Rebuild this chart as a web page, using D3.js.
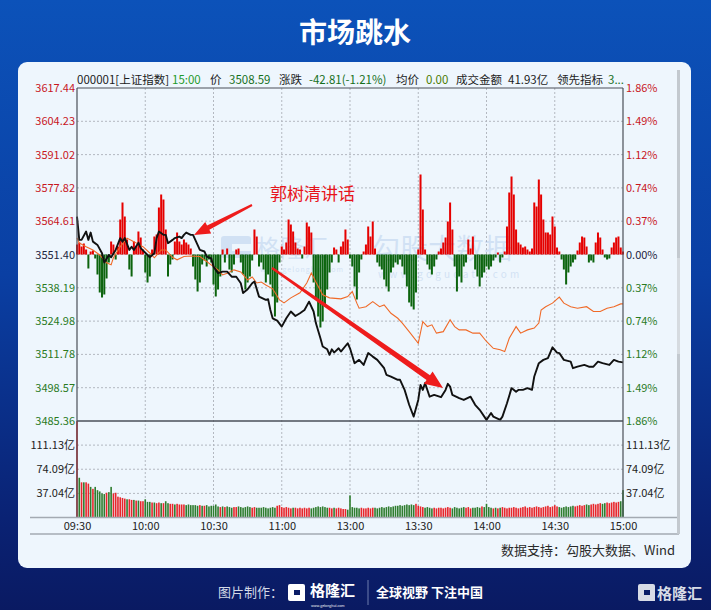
<!DOCTYPE html>
<html><head><meta charset="utf-8">
<script src="https://cdn.jsdelivr.net/npm/d3@7"></script>
<style>
body{margin:0;background:#0a2a80;}
svg{display:block;font-family:"Noto Sans CJK SC","Noto Sans",sans-serif;}
</style></head><body>
<svg id="chart" width="711" height="610"></svg>
<script>
// ---- data ----
var preClose = 3551.40;
var priceTicks = [3617.44, 3604.23, 3591.02, 3577.82, 3564.61, 3551.40, 3538.19, 3524.98, 3511.78, 3498.57, 3485.36];
var volTicks = [37.04, 74.09, 111.13];
var timeIdx = [0, 30, 60, 90, 120, 150, 180, 210, 240];
var timeLabels = ["09:30", "10:00", "10:30", "11:00", "13:00", "13:30", "14:00", "14:30", "15:00"];

// [minute index, index level]
var pricePts = [[0,3566.4],[1,3557.2],[2,3557.2],[4,3560.5],[5,3557.2],[6,3560.1],[7,3556.5],[9,3555.2],[11,3551.9],[12,3548.2],[14,3551.2],[15,3550.3],[17,3553.2],[19,3557.9],[20,3556.5],[21,3557.9],[23,3553.2],[24,3554.5],[25,3553.2],[27,3556.1],[28,3553.9],[31,3551.2],[32,3550.3],[34,3551.9],[35,3557.9],[36,3560.5],[38,3559.2],[39,3559.2],[40,3555.9],[42,3557.2],[43,3557.9],[45,3558.5],[46,3557.9],[47,3559.2],[48,3560.1],[50,3559.2],[51,3559.2],[53,3555.2],[54,3553.2],[56,3552.6],[57,3550.6],[59,3549.9],[60,3546.6],[62,3544.0],[64,3544.6],[66,3544.6],[68,3542.6],[70,3542.6],[72,3540.0],[73,3536.1],[75,3537.6],[77,3540.0],[78,3540.7],[80,3534.7],[83,3533.4],[84,3533.7],[85,3529.4],[86,3526.1],[88,3525.2],[90,3522.8],[92,3526.1],[94,3528.8],[96,3527.0],[98,3528.1],[100,3529.4],[102,3532.7],[104,3528.8],[105,3524.2],[107,3518.2],[108,3514.9],[110,3513.8],[111,3511.6],[112,3513.8],[113,3512.5],[115,3514.2],[116,3512.9],[119,3516.2],[120,3514.2],[122,3508.3],[124,3509.6],[126,3507.6],[128,3512.3],[130,3510.9],[132,3509.6],[135,3506.3],[136,3503.7],[138,3503.0],[141,3501.7],[142,3501.7],[144,3497.7],[146,3491.8],[148,3487.1],[150,3493.7],[151,3499.7],[152,3497.7],[153,3500.4],[155,3495.0],[157,3495.7],[160,3494.8],[162,3497.7],[163,3500.1],[164,3499.0],[165,3495.7],[168,3494.4],[170,3493.7],[173,3495.0],[175,3491.8],[177,3489.8],[180,3485.8],[182,3488.5],[183,3487.1],[186,3485.8],[187,3487.1],[189,3492.4],[191,3498.4],[193,3497.0],[194,3497.7],[196,3497.7],[198,3498.4],[200,3497.7],[201,3503.0],[203,3508.3],[205,3509.6],[207,3510.3],[209,3514.6],[211,3512.5],[212,3512.3],[214,3509.6],[217,3508.9],[218,3506.3],[220,3506.9],[223,3507.6],[225,3506.9],[227,3506.9],[229,3508.9],[231,3508.3],[234,3507.6],[236,3509.6],[238,3508.9],[240,3508.59]];

// orange line (leading indicator), same units
var leadPts = [[0,3558.0],[1,3556.0],[4,3554.5],[7,3553.2],[10,3551.2],[13,3548.1],[15,3547.3],[16,3550.1],[19,3554.5],[22,3557.9],[25,3556.5],[29,3554.5],[32,3552.0],[34,3550.1],[37,3553.2],[39,3553.2],[42,3550.3],[44,3549.3],[47,3550.6],[50,3550.8],[54,3550.6],[57,3548.6],[60,3546.6],[62,3545.3],[64,3543.3],[66,3544.0],[69,3545.3],[72,3544.5],[75,3541.3],[77,3542.5],[79,3540.1],[81,3540.5],[83,3539.3],[86,3537.8],[89,3533.4],[91,3532.2],[94,3534.2],[98,3536.2],[101,3540.1],[103,3544.1],[105,3540.5],[108,3535.4],[111,3534.2],[116,3533.8],[119,3534.7],[121,3536.7],[123,3532.1],[124,3530.1],[127,3530.7],[130,3532.7],[133,3530.7],[135,3531.4],[138,3528.1],[141,3526.1],[143,3524.2],[146,3520.8],[150,3516.2],[152,3524.8],[154,3522.8],[156,3523.5],[158,3520.2],[161,3520.8],[164,3525.5],[166,3522.8],[168,3521.5],[171,3521.5],[174,3520.2],[177,3520.2],[180,3516.9],[183,3514.2],[186,3513.6],[188,3512.9],[190,3518.2],[193,3522.8],[195,3520.2],[198,3521.5],[201,3522.2],[203,3524.2],[204,3529.4],[206,3530.7],[209,3532.1],[212,3534.5],[214,3532.1],[217,3530.7],[220,3530.1],[224,3530.7],[227,3528.8],[230,3528.8],[233,3530.1],[236,3530.7],[239,3531.8],[240,3531.8]];

// red/green strength bars, one per minute
var force = [
 10, 12, 8, 11, 5, -14, 3, 4, -4, -20,
 -38, -43, -40, -24, -8, 13, 10, -5, 8, 35,
 52, 38, 15, -15, -22, 13, 8, 23, 17, 5,
 -18, -28, -22, 5, 18, 20, 47, 60, 55, 25,
 -22, -10, -5, 13, 22, 13, 10, 15, 12, 10,
 6, -12, -25, -37, -28, -10, -6, -12, -5, -8,
 -30, -42, -35, -22, 5, -8, 6, -15, -18, -10,
 5, 6, -8, -20, -35, -28, -22, -6, 25, 18,
 -12, -8, -15, -28, -20, -30, -42, -62, -48, -8,
 8, 5, 12, 35, 30, 23, 12, 6, 5, -4,
 8, 32, 28, 22, -28, -45, -62, -73, -67, -52,
 -35, -18, -8, 7, 5, -8, 8, 13, 25, 15,
 -4, -12, -32, -45, -18, -5, 3, 10, 28, 18,
 33, 6, -8, -12, -15, -25, -32, -37, -18, -13,
 -8, -10, -5, -12, -20, -32, -48, -52, -55, -38,
 5, 80, 45, 5, -10, -15, -20, -12, -5, 3,
 6, 12, 17, 33, 52, 25, -12, -37, -22, -28,
 -12, -8, 15, 6, 18, -15, -22, -32, -23, -18,
 -12, -15, -12, -6, -3, 2, -8, -3, 3, 28,
 62, 78, 60, 25, 12, 10, 7, 8, 5, 3,
 6, 52, 48, 75, 60, 35, 22, 22, 20, 38,
 28, 7, 3, -5, -15, -30, -18, -12, -8, -5,
 4, 12, 18, 17, 8, -8, -6, -8, 12, 22,
 17, 5, -3, -5, -4, 7, 12, 17, 18, 7,
 3];

// turnover per minute, 亿
var volume = [
 148, 61, 54, 54, 54, 52, 47, 44, 47, 42,
 40, 37, 36, 38, 39, 47, 37, 38, 32, 31,
 30, 29, 28, 28, 27, 27, 26, 26, 25, 25,
 28, 24, 24, 23, 23, 22, 23, 22, 22, 25,
 22, 21, 21, 20, 21, 20, 20, 20, 19, 20,
 19, 19, 19, 18, 19, 18, 18, 19, 17, 18,
 18, 20, 17, 16, 17, 16, 17, 16, 15, 16,
 16, 17, 16, 15, 16, 17, 16, 15, 16, 15,
 15, 15, 16, 15, 14, 15, 16, 15, 18, 19,
 16, 15, 16, 15, 14, 15, 15, 14, 15, 14,
 15, 14, 15, 14, 15, 16, 17, 16, 17, 16,
 15, 15, 14, 15, 14, 15, 14, 13, 13, 12,
 34, 16, 15, 15, 14, 15, 14, 14, 15, 14,
 15, 15, 14, 15, 16, 15, 16, 17, 16, 17,
 18, 18, 19, 18, 19, 20, 19, 20, 19, 21,
 18, 17, 16, 15, 16, 15, 14, 15, 14, 15,
 15, 14, 15, 16, 15, 14, 16, 15, 14, 15,
 16, 15, 16, 14, 15, 15, 16, 15, 17, 16,
 21, 16, 15, 14, 15, 14, 15, 16, 15, 14,
 15, 15, 16, 15, 14, 15, 16, 17, 15, 16,
 15, 16, 17, 16, 15, 16, 17, 18, 16, 17,
 19, 17, 16, 15, 16, 17, 16, 17, 18, 17,
 18, 19, 18, 19, 20, 19, 20, 21, 20, 21,
 22, 21, 22, 23, 22, 23, 24, 23, 24, 25,
 42];
var volDir =
 "rgrgrrgrgggggrggrrrr" + "rrgrrgrgrrgggrgrrgrg" + "grrgrrrrggggggrgrggg" +
 "gggrgrgggrrggggggrrg" + "ggggggggrrrrrrrgrrrr" + "rrrggggggggrrgrrrrrg" +
 "gggggrrrrrrggggggggg" + "gggggggggrrrrggggrrr" + "rrrrrggggggrrrggggrg" +
 "gggrgrgrrrrrrrrrrrrr" + "rrrrrrrrrrrrgggggggr" + "rrrrggrrrrrggrrrrrrg" + "g";

var header = [
  ["000001[上证指数]", "#1c1c1c", 77],
  ["15:00", "#1f9a2a", 172],
  ["价", "#1c1c1c", 210],
  ["3508.59", "#16701c", 229],
  ["涨跌", "#1c1c1c", 279],
  ["-42.81(-1.21%)", "#16701c", 309],
  ["均价", "#1c1c1c", 396],
  ["0.00", "#4a7a00", 426],
  ["成交金额", "#1c1c1c", 456],
  ["41.93亿", "#1c1c1c", 508],
  ["领先指标", "#1c1c1c", 557],
  ["3...", "#16701c", 608]
];

// ---- layout ----
var svg = d3.select("#chart");
var L = 77, R = 623, T = 88, MID = 421, B = 517.5;
var RED = "#c8161d", GREEN = "#2a7a1e";

var defs = svg.append("defs");
var bg = defs.append("linearGradient").attr("id", "bg").attr("x1", 0).attr("y1", 0).attr("x2", 0).attr("y2", 1);
bg.append("stop").attr("offset", "0%").attr("stop-color", "#0c52b9");
bg.append("stop").attr("offset", "45%").attr("stop-color", "#0a3fa3");
bg.append("stop").attr("offset", "85%").attr("stop-color", "#0a2274");
bg.append("stop").attr("offset", "100%").attr("stop-color", "#0a1a62");
svg.append("rect").attr("width", 711).attr("height", 610).attr("fill", "url(#bg)");

svg.append("text").attr("x", 355).attr("y", 43).attr("text-anchor", "middle")
	.attr("fill", "#fff").attr("font-size", 28).attr("font-weight", 700).text("市场跳水");

svg.append("rect").attr("x", 18).attr("y", 62).attr("width", 673).attr("height", 506)
	.attr("rx", 9).attr("fill", "#eef6fd");

// scales
var x = d3.scaleLinear().domain([0, 240]).range([L, R]);
var y = d3.scaleLinear().domain([priceTicks[10], priceTicks[0]]).range([MID, T]);
var yVol = d3.scaleLinear().domain([0, volTicks[0] * 4]).range([B, MID]);
var y0 = y(preClose);
var yForce = d3.scaleLinear().domain([-80, 80]).range([y0 + 80, y0 - 80]);

// grid
var grid = svg.append("g").attr("stroke", "#b3b8c0").attr("stroke-dasharray", "2,2").attr("stroke-width", 1);
priceTicks.slice(1, 10).forEach(function(v) {
	grid.append("line").attr("x1", L).attr("x2", R).attr("y1", y(v)).attr("y2", y(v));
});
volTicks.forEach(function(v) {
	grid.append("line").attr("x1", L).attr("x2", R).attr("y1", yVol(v)).attr("y2", yVol(v));
});
timeIdx.slice(1, 8).forEach(function(i) {
	grid.append("line").attr("x1", x(i)).attr("x2", x(i)).attr("y1", T).attr("y2", B);
});

// watermarks
var wm = svg.append("g").attr("fill", "#7aa3d8").attr("opacity", 0.24);
wm.append("rect").attr("x", 221).attr("y", 236).attr("width", 30).attr("height", 22).attr("rx", 3);
wm.append("rect").attr("x", 232).attr("y", 244).attr("width", 19).attr("height", 7).attr("fill", "#eef6fd");
wm.append("text").attr("x", 256).attr("y", 257).attr("font-size", 24).text("格隆汇");
wm.append("text").attr("x", 260).attr("y", 272).attr("font-size", 7).attr("letter-spacing", 1).text("www.gelonghui.com");
wm.append("text").attr("x", 372).attr("y", 259).attr("font-size", 28).text("勾股大数据");
wm.append("text").attr("x", 378).attr("y", 278).attr("font-size", 10).attr("letter-spacing", 3.2).text("www.gogudata.com");

// strength bars
svg.append("g").selectAll("rect").data(force).join("rect")
	.attr("x", function(d, i) { return x(i) - 1; })
	.attr("width", 2)
	.attr("y", function(d) { return Math.min(yForce(d), y0); })
	.attr("height", function(d) { return Math.abs(yForce(d) - y0); })
	.attr("fill", function(d) { return d >= 0 ? "#e50000" : "#0c640e"; });

// volume bars
svg.append("g").selectAll("rect").data(volume).join("rect")
	.attr("x", function(d, i) { return x(i) - 0.8; })
	.attr("width", 1.6)
	.attr("y", function(d) { return yVol(d); })
	.attr("height", function(d) { return B - yVol(d); })
	.attr("fill", function(d, i) { return volDir[i] === "r" ? "#e8262b" : "#2f7d2f"; });

// lines
var line = d3.line().x(function(d) { return x(d[0]); }).y(function(d) { return y(d[1]); });
svg.append("path").attr("d", line(leadPts)).attr("fill", "none")
	.attr("stroke", "#f06a28").attr("stroke-width", 1.1);
svg.append("path").attr("d", line(pricePts)).attr("fill", "none")
	.attr("stroke", "#111").attr("stroke-width", 1.9).attr("stroke-linejoin", "round");

// frame
var fr = svg.append("g").attr("stroke", "#4a4f58").attr("stroke-width", 1.2);
fr.append("line").attr("x1", L).attr("x2", R).attr("y1", T).attr("y2", T);
fr.append("line").attr("x1", L).attr("x2", R).attr("y1", MID).attr("y2", MID).attr("stroke-width", 1.6);
fr.append("line").attr("x1", L).attr("x2", L).attr("y1", T).attr("y2", B);
fr.append("line").attr("x1", R).attr("x2", R).attr("y1", T).attr("y2", B);
svg.append("line").attr("x1", 30).attr("x2", 679).attr("y1", B).attr("y2", B)
	.attr("stroke", "#a3aab2").attr("stroke-width", 1.5);
svg.append("line").attr("x1", 30).attr("x2", 679).attr("y1", 534).attr("y2", 534)
	.attr("stroke", "#a3aab2").attr("stroke-width", 1.5);
svg.append("rect").attr("x", 677).attr("y", 70).attr("width", 3).attr("height", 464).attr("fill", "#c3c9cf");
svg.append("rect").attr("x", 677).attr("y", 258).attr("width", 3).attr("height", 96).attr("fill", "#d6dbe0");

// axes
function colorOf(v) { return Math.abs(v - preClose) < 0.01 ? "#1e2440" : (v > preClose ? RED : GREEN); }
function styleAxis(g) {
	g.select(".domain").remove();
	g.attr("font-family", null).attr("font-size", 11);
}
svg.append("g").attr("transform", "translate(" + (L - 2) + ",0)")
	.call(d3.axisLeft(y).tickValues(priceTicks).tickSize(0).tickPadding(0).tickFormat(d3.format(".2f")))
	.call(styleAxis)
	.selectAll("text").attr("fill", colorOf);
svg.append("g").attr("transform", "translate(" + (R + 3) + ",0)")
	.call(d3.axisRight(y).tickValues(priceTicks).tickSize(0).tickPadding(0)
		.tickFormat(function(v) { return (Math.abs(v - preClose) / preClose * 100).toFixed(2) + "%"; }))
	.call(styleAxis)
	.selectAll("text").attr("fill", colorOf);
svg.append("g").attr("transform", "translate(" + (L - 2) + ",0)")
	.call(d3.axisLeft(yVol).tickValues(volTicks).tickSize(0).tickPadding(0)
		.tickFormat(function(v) { return v.toFixed(2) + "亿"; }))
	.call(styleAxis)
	.selectAll("text").attr("fill", "#222");
svg.append("g").attr("transform", "translate(" + (R + 3) + ",0)")
	.call(d3.axisRight(yVol).tickValues(volTicks).tickSize(0).tickPadding(0)
		.tickFormat(function(v) { return v.toFixed(2) + "亿"; }))
	.call(styleAxis)
	.selectAll("text").attr("fill", "#222");
svg.append("g").attr("transform", "translate(0," + B + ")")
	.call(d3.axisBottom(x).tickValues(timeIdx).tickSize(0).tickPadding(5)
		.tickFormat(function(d, i) { return timeLabels[i]; }))
	.call(styleAxis)
	.selectAll("text").attr("fill", "#222");

// header line
svg.append("g").selectAll("text").data(header).join("text")
	.attr("x", function(d) { return d[2]; }).attr("y", 84)
	.attr("font-size", 11.5).attr("fill", function(d) { return d[1]; })
	.text(function(d) { return d[0]; });

// annotation
svg.append("text").attr("x", 270).attr("y", 200).attr("font-size", 17).attr("fill", "#e8141b").text("郭树清讲话");
function arrow(x1, y1, x2, y2, w, hw, hl) {
	var a = Math.atan2(y2 - y1, x2 - x1), c = Math.cos(a), s = Math.sin(a);
	var bx = x2 - c * hl, by = y2 - s * hl;
	var pts = [[x1 - s * w * 0.2, y1 + c * w * 0.2], [bx - s * w / 2, by + c * w / 2], [bx - s * hw / 2, by + c * hw / 2],
		[x2, y2], [bx + s * hw / 2, by - c * hw / 2], [bx + s * w / 2, by - c * w / 2], [x1 + s * w * 0.2, y1 - c * w * 0.2]];
	svg.append("path").attr("d", "M" + pts.join("L") + "Z").attr("fill", "#ee1c1c");
}
arrow(252, 205, 194, 235, 5, 13, 16);
arrow(272, 268, 443, 388, 6, 15, 18);

// source
svg.append("text").attr("x", 675).attr("y", 555).attr("text-anchor", "end")
	.attr("font-size", 13).attr("fill", "#2a2a2a").text("数据支持：勾股大数据、Wind");

// footer
function logo(g, x0, col) {
	g.append("rect").attr("x", x0).attr("y", 584).attr("width", 17).attr("height", 17).attr("rx", 2).attr("fill", col);
	g.append("rect").attr("x", x0 + 6).attr("y", 590).attr("width", 11).attr("height", 5).attr("fill", "#0a1d66");
	g.append("rect").attr("x", x0 + 12).attr("y", 590).attr("width", 5).attr("height", 11).attr("fill", col);
}
var ft = svg.append("g");
ft.append("text").attr("x", 218).attr("y", 597).attr("font-size", 13).attr("fill", "#d3d9e6").text("图片制作：");
logo(ft, 288, "#fff");
ft.append("text").attr("x", 310).attr("y", 596).attr("font-size", 15).attr("font-weight", 700).attr("fill", "#fff").text("格隆汇");
ft.append("text").attr("x", 311).attr("y", 607).attr("font-size", 3.5).attr("fill", "#fff").text("www.gelonghui.com");
ft.append("line").attr("x1", 368).attr("x2", 368).attr("y1", 580).attr("y2", 605).attr("stroke", "#6c7cae");
ft.append("text").attr("x", 376).attr("y", 597).attr("font-size", 13).attr("font-weight", 700).attr("fill", "#fff").text("全球视野 下注中国");
logo(ft, 638, "#d8dce6");
ft.append("text").attr("x", 657).attr("y", 599).attr("font-size", 15).attr("font-weight", 700).attr("fill", "#d8dce6").text("格隆汇");
</script></body></html>
